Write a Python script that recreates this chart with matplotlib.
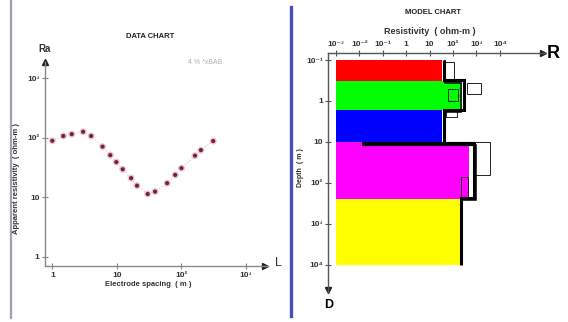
import matplotlib

matplotlib.use("Agg")

import matplotlib.pyplot as plt
from matplotlib.lines import Line2D
from matplotlib.patches import Rectangle

plt.rcParams["font.family"] = ["Liberation Sans", "DejaVu Sans"]
plt.rcParams["font.weight"] = "bold"

# data chart: sounding curve
spacing = [1, 1.48, 2.0, 3.0, 4.0, 6.0, 7.9, 9.8, 12.3, 16.6, 20.5, 30, 39, 60, 80, 100, 162, 200, 310]
app_res = [89, 107, 115, 126, 107, 71, 51, 39, 29.6, 21, 15.7, 11.4, 12.5, 17.3, 23.8, 30.9, 50, 62, 88]
spacing_ticks = [1, 10, 100, 1000]
spacing_labels = ["1", "10", "10²", "10³"]
res_ticks = [1, 10, 100, 1000]
res_labels = ["1", "10", "10²", "10³"]

# model chart: layered model
layer_colors = ["#ff0000", "#00ff00", "#0000ff", "#ff00ff", "#ffff00"]
layer_rho = [33, 250, 33, 500, 200]
layer_bounds = [0.1, 0.33, 1.66, 10.0, 245, 10000]
fit_rho_a = [40, 290, 40, 800, 212]
fit_bounds_a = [0.1, 0.3, 1.7, 11.0, 230, 10000]
fit_rho_b = [44, 210, 44, 950, 225]
fit_bounds_b = [0.1, 0.36, 1.9, 11.8, 255, 8500]
top_line_depth = 11.3
top_line_rho = [0.0125, 900]
box_rho_lo = [41, 385, 870, 60, 50, 230]
box_rho_hi = [110, 1580, 3800, 170, 145, 440]
box_top = [0.115, 0.37, 9.8, 0.5, 1.66, 71]
box_bottom = [0.29, 0.66, 63, 1.0, 2.4, 218]
box_filled = [True, True, True, False, False, False]
rho_ticks = [1e-3, 1e-2, 1e-1, 1, 10, 100, 1e3, 1e4]
rho_labels = ["10⁻³", "10⁻²", "10⁻¹", "1", "10", "10²", "10³", "10⁴"]
depth_ticks = [0.1, 1, 10, 100, 1000, 10000]
depth_labels = ["10⁻¹", "1", "10", "10²", "10³", "10⁴"]

W, H = 568, 322
GREY = "#8a8a8a"
TEXT = "#333333"


def fx(px):
    return px / W


def fy(py):
    return 1 - py / H


fig = plt.figure(figsize=(5.68, 3.22), dpi=100)

# frame lines
fig.add_artist(Line2D([fx(11), fx(11)], [fy(0), fy(318)], color="#a0a0b0", lw=1.6))
fig.add_artist(Line2D([fx(291), fx(291)], [fy(7), fy(316)], color="#4352b3", lw=2.4))

# ---- data chart ----
ax = fig.add_axes([fx(45), fy(266), fx(268 - 45), (266 - 62) / H])
ax.set_xscale("log")
ax.set_yscale("log")
ax.set_xlim(10 ** -0.113, 10 ** 3.34)
ax.set_ylim(10 ** -0.151, 10 ** 3.27)
ax.plot(spacing, app_res, color="#f4b8c8", lw=0.8, ls=":", zorder=2)
ax.scatter(spacing, app_res, s=26, color="#f2c4d2", edgecolors="none", zorder=3)
ax.scatter(spacing, app_res, s=9, color="#6a2442", edgecolors="none", zorder=4)
for side in ["top", "right"]:
    ax.spines[side].set_visible(False)
for side in ["left", "bottom"]:
    ax.spines[side].set_color(GREY)
    ax.spines[side].set_linewidth(1.0)
ax.set_xticks(spacing_ticks, spacing_labels)
ax.set_yticks(res_ticks, res_labels)
ax.minorticks_off()
ax.tick_params(direction="inout", length=5, width=0.8, color=GREY,
               labelsize=6, labelcolor=TEXT, pad=1.5)
ax.plot(0, 1, marker="^", color="#222222", ms=5, transform=ax.transAxes, clip_on=False)
ax.plot(0.985, 0, marker=">", color="#222222", ms=5, transform=ax.transAxes, clip_on=False)
ax.set_facecolor("none")

fig.text(fx(150), fy(36), "DATA CHART", ha="center", va="center", fontsize=5.5, color="#222222")
fig.text(fx(205), fy(62), "4 % *xBAB", ha="center", va="center", fontsize=5, color="#b0b0b0",
         fontweight="normal")
fig.text(fx(45), fy(49), "Ra", ha="center", va="center", fontsize=7, color=TEXT)
fig.text(fx(278), fy(263), "L", ha="center", va="center", fontsize=9, color=TEXT, fontweight="normal")
fig.text(fx(148), fy(285), "Electrode spacing  ( m )", ha="center", va="center", fontsize=5.5,
         color=TEXT)
fig.text(fx(17), fy(178), "Apparent resistivity  ( ohm-m )", ha="center", va="center",
         rotation=90, fontsize=5.5, color=TEXT)

# ---- model chart ----
mx = fig.add_axes([fx(328), fy(292), fx(545 - 328), (292 - 53) / H])
mx.set_xscale("log")
mx.set_yscale("log")
mx.set_xlim(10 ** -3.342, 10 ** 5.93)
mx.set_ylim(10 ** 4.66, 10 ** -1.171)

for rho, top, bottom, color in zip(layer_rho, layer_bounds[:-1], layer_bounds[1:], layer_colors):
    mx.barh(top, rho - 1e-3, left=1e-3, height=bottom - top, align="edge",
            color=color, edgecolor="none", zorder=2)

for lo, hi, top, bottom, filled in zip(box_rho_lo, box_rho_hi, box_top, box_bottom, box_filled):
    mx.add_patch(Rectangle((lo, top), hi - lo, bottom - top, facecolor="white" if filled else "none",
                           edgecolor="#222222", lw=0.7, zorder=3))

mx.stairs(fit_rho_a, fit_bounds_a, orientation="horizontal", baseline=None,
          color="black", lw=2.2, zorder=4)
mx.stairs(fit_rho_b, fit_bounds_b, orientation="horizontal", baseline=None,
          color="black", lw=1.1, zorder=4)
mx.hlines(top_line_depth, top_line_rho[0], top_line_rho[1], color="black", lw=3.0, zorder=4)

for side in ["bottom", "right"]:
    mx.spines[side].set_visible(False)
for side in ["left", "top"]:
    mx.spines[side].set_color("#555555")
    mx.spines[side].set_linewidth(1.0)
mx.xaxis.tick_top()
mx.set_xticks(rho_ticks, rho_labels)
mx.set_yticks(depth_ticks, depth_labels)
mx.minorticks_off()
mx.tick_params(direction="inout", length=4, width=0.8, color="#555555",
               labelsize=6, labelcolor=TEXT, pad=1.5)
mx.plot(0.99, 1, marker=">", color="#222222", ms=5, transform=mx.transAxes, clip_on=False)
mx.plot(0, 0.01, marker="v", color="#222222", ms=5, transform=mx.transAxes, clip_on=False)

fig.text(fx(433), fy(13), "MODEL CHART", ha="center", va="center", fontsize=5.5, color="#222222")
fig.text(fx(430), fy(31), "Resistivity  ( ohm-m )", ha="center", va="center", fontsize=6.5,
         color=TEXT)
fig.text(fx(553), fy(53), "R", ha="center", va="center", fontsize=13, color="black")
fig.text(fx(329), fy(305), "D", ha="center", va="center", fontsize=9, color="black")
fig.text(fx(300), fy(168), "Depth  ( m )", ha="center", va="center", rotation=90,
         fontsize=5, color=TEXT)

fig.savefig("out.png", dpi=100)
